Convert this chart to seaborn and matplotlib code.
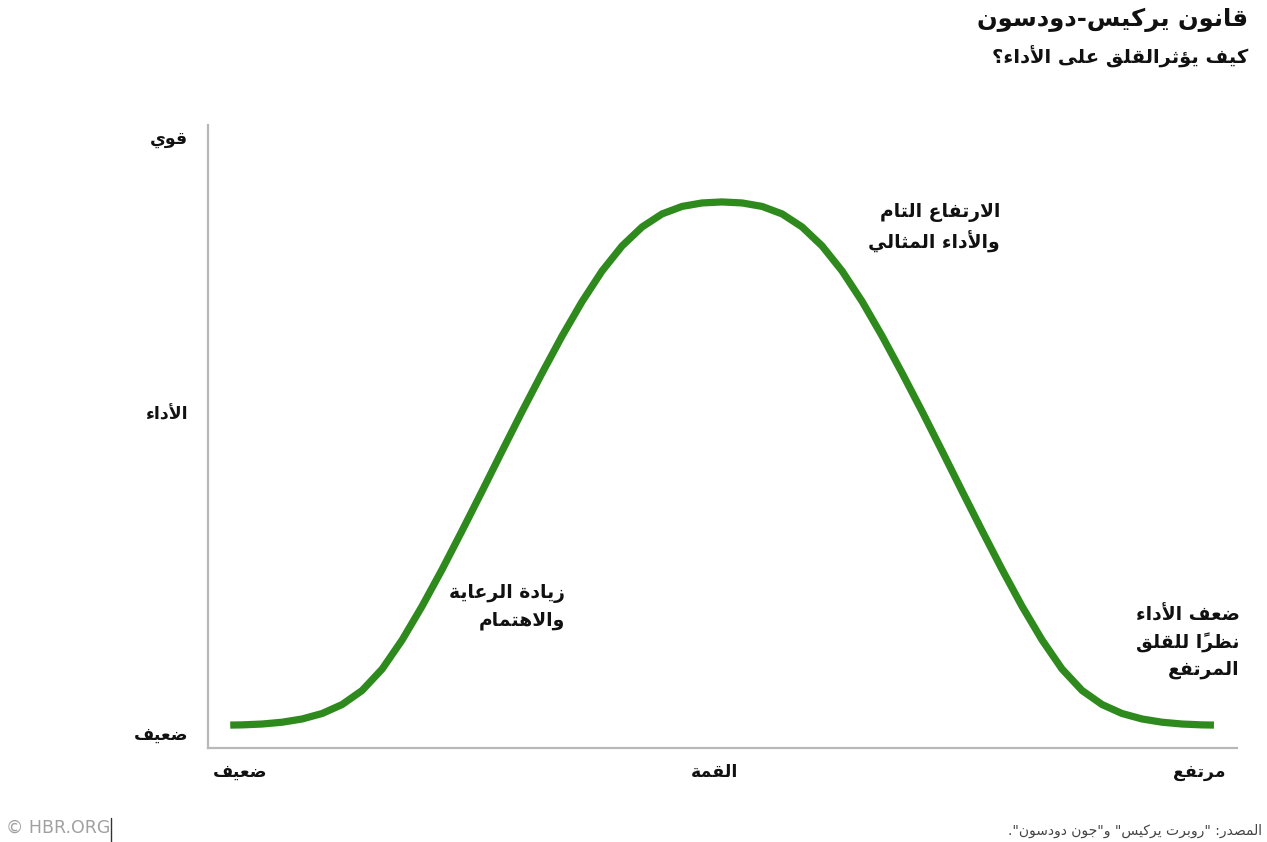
import matplotlib
matplotlib.use("Agg")
import matplotlib.pyplot as plt
from matplotlib.lines import Line2D
import seaborn as sns
import pandas as pd

# curve (x: anxiety 0-100, y: performance 0-100)
anxiety = [2.18, 3.34, 5.29, 7.23, 9.17, 11.12, 13.06, 15.00, 16.95, 18.89, 20.83,
           22.78, 24.72, 26.67, 28.61, 30.55, 32.50, 34.44, 36.39, 38.33, 40.27,
           42.22, 44.16, 46.10, 48.05, 49.99, 51.93, 53.88, 55.82, 57.76, 59.71,
           61.65, 63.60, 65.54, 67.48, 69.43, 71.37, 73.31, 75.26, 77.20, 79.14,
           81.09, 83.03, 84.98, 86.92, 88.86, 90.81, 92.75, 94.69, 96.64, 97.80]
performance = [3.63, 3.66, 3.80, 4.09, 4.61, 5.49, 6.93, 9.18, 12.63, 17.29, 22.71,
               28.62, 34.83, 41.20, 47.62, 53.96, 60.14, 66.08, 71.62, 76.52, 80.53,
               83.58, 85.67, 86.87, 87.43, 87.59, 87.43, 86.87, 85.67, 83.58, 80.53,
               76.52, 71.62, 66.08, 60.14, 53.96, 47.62, 41.20, 34.83, 28.62, 22.71,
               17.29, 12.63, 9.18, 6.93, 5.49, 4.61, 4.09, 3.80, 3.66, 3.63]

x_ticks = [3.1, 49.3, 96.4]
x_labels = ["ضعيف", "القمة", "مرتفع"]
y_ticks = [2.4, 53.8, 98.0]
y_labels = ["ضعيف", "الأداء", "قوي"]

title = "قانون يركيس-دودسون"
subtitle = "كيف يؤثرالقلق على الأداء؟"
source = 'المصدر: "روبرت يركيس" و"جون دودسون".'
notes = [
    ("الارتفاع التام\nوالأداء المثالي", 77.0, 87.5),
    ("زيادة الرعاية\nوالاهتمام", 34.7, 26.2),
    ("ضعف الأداء\nنظراً للقلق\nالمرتفع", 100.3, 22.8),
]

# --- minimal arabic shaping (matplotlib has no complex text layout) ---
_table = [("\u0621", 0xFE80, 1), ("\u0622", 0xFE81, 2), ("\u0623", 0xFE83, 2),
          ("\u0624", 0xFE85, 2), ("\u0625", 0xFE87, 2), ("\u0626", 0xFE89, 4),
          ("\u0627", 0xFE8D, 2), ("\u0628", 0xFE8F, 4), ("\u0629", 0xFE93, 2),
          ("\u062A", 0xFE95, 4), ("\u062B", 0xFE99, 4), ("\u062C", 0xFE9D, 4),
          ("\u062D", 0xFEA1, 4), ("\u062E", 0xFEA5, 4), ("\u062F", 0xFEA9, 2),
          ("\u0630", 0xFEAB, 2), ("\u0631", 0xFEAD, 2), ("\u0632", 0xFEAF, 2),
          ("\u0633", 0xFEB1, 4), ("\u0634", 0xFEB5, 4), ("\u0635", 0xFEB9, 4),
          ("\u0636", 0xFEBD, 4), ("\u0637", 0xFEC1, 4), ("\u0638", 0xFEC5, 4),
          ("\u0639", 0xFEC9, 4), ("\u063A", 0xFECD, 4), ("\u0641", 0xFED1, 4),
          ("\u0642", 0xFED5, 4), ("\u0643", 0xFED9, 4), ("\u0644", 0xFEDD, 4),
          ("\u0645", 0xFEE1, 4), ("\u0646", 0xFEE5, 4), ("\u0647", 0xFEE9, 4),
          ("\u0648", 0xFEED, 2), ("\u0649", 0xFEEF, 2), ("\u064A", 0xFEF1, 4)]
FORMS = {c: tuple(chr(s + k) for k in range(n)) for c, s, n in _table}
LAM_ALEF = {"\u0627": ("\uFEFB", "\uFEFC"), "\u0623": ("\uFEF7", "\uFEF8"),
            "\u0625": ("\uFEF9", "\uFEFA"), "\u0622": ("\uFEF5", "\uFEF6")}


def is_mark(c):
    return "\u064B" <= c <= "\u065F" or c == "\u0670"


def shape_line(s):
    res = []
    i, n = 0, len(s)
    while i < n:
        c = s[i]
        if c not in FORMS:
            res.append(c)
            i += 1
            continue
        j = i - 1
        while j >= 0 and is_mark(s[j]):
            j -= 1
        prev_joins = j >= 0 and s[j] in FORMS and len(FORMS[s[j]]) == 4
        k = i + 1
        while k < n and is_mark(s[k]):
            k += 1
        nxt = s[k] if k < n else None
        if c == "\u0644" and nxt in LAM_ALEF:
            iso, fin = LAM_ALEF[nxt]
            res.append(fin if prev_joins else iso)
            res.extend(s[i + 1:k])
            i = k + 1
            continue
        f = FORMS[c]
        next_joins = len(f) == 4 and nxt in FORMS and len(FORMS[nxt]) > 1
        if len(f) == 1:
            g = f[0]
        elif prev_joins and next_joins:
            g = f[3]
        elif prev_joins:
            g = f[1]
        elif next_joins:
            g = f[2]
        else:
            g = f[0]
        res.append(g)
        i += 1
    # visual order: reverse clusters (base + its marks)
    clusters = []
    for ch in res:
        if is_mark(ch) and clusters:
            clusters[-1] += ch
        else:
            clusters.append(ch)
    return "".join(reversed(clusters))


def ar(text):
    return "\n".join(shape_line(line) for line in text.split("\n"))


# --- plot ---
sns.set_theme(style="white")
plt.rcParams["font.family"] = ["DejaVu Sans"]

fig = plt.figure(figsize=(12.67, 8.42), dpi=100)
ax = fig.add_axes([0.164, 0.112, 0.812, 0.740])

df = pd.DataFrame({"anxiety": anxiety, "performance": performance})
sns.lineplot(data=df, x="anxiety", y="performance", ax=ax, color="#2f8a1e",
             linewidth=5.2, solid_capstyle="butt", solid_joinstyle="round")

ax.set_xlim(0, 100)
ax.set_ylim(0, 100)
ax.set_xlabel("")
ax.set_ylabel("")
for side in ["top", "right"]:
    ax.spines[side].set_visible(False)
for side in ["left", "bottom"]:
    ax.spines[side].set_color("#b8b8b8")
    ax.spines[side].set_linewidth(1.6)

ax.set_xticks(x_ticks)
ax.set_xticklabels([ar(t) for t in x_labels], fontsize=12.5, fontweight="bold", color="#111111")
ax.set_yticks(y_ticks)
ax.set_yticklabels([ar(t) for t in y_labels], fontsize=12.5, fontweight="bold", color="#111111")
ax.tick_params(axis="x", length=0, pad=11)
ax.tick_params(axis="y", length=0, pad=14)

for text, x, y in notes:
    ax.text(x, y, ar(text), ha="right", va="top", multialignment="right",
            fontsize=13.5, fontweight="bold", color="#111111", linespacing=1.5)

fig.text(0.985, 0.976, ar(title), ha="right", va="center", fontsize=17.5,
         fontweight="bold", color="#111111")
fig.text(0.985, 0.932, ar(subtitle), ha="right", va="center", fontsize=14,
         fontweight="bold", color="#111111")
fig.text(0.996, 0.005, ar(source), ha="right", va="bottom", fontsize=10,
         color="#444444")
fig.text(0.005, 0.006, "© HBR.ORG", ha="left", va="bottom", fontsize=12.5,
         color="#a0a0a0")
fig.add_artist(Line2D([0.0875, 0.0875], [0.0, 0.029], color="#333333", linewidth=1))

fig.savefig("out.png", dpi=100)
